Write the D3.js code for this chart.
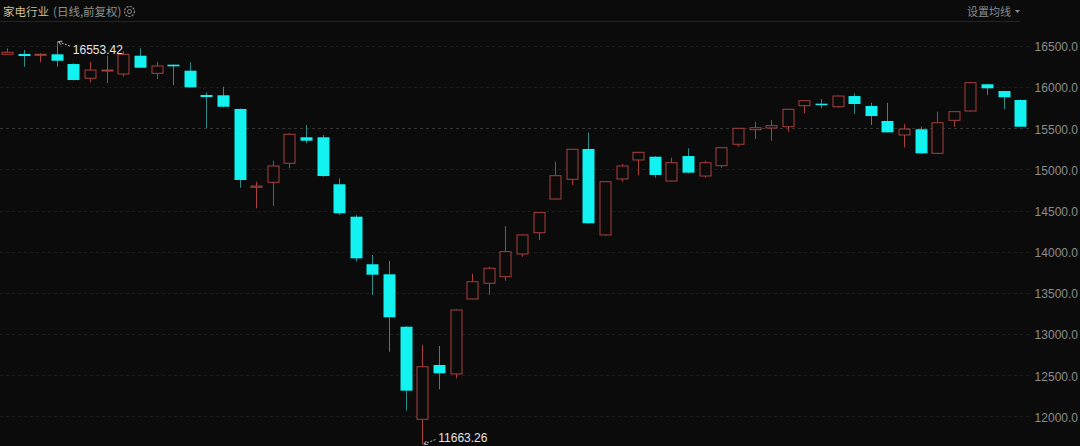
<!DOCTYPE html>
<html>
<head>
<meta charset="utf-8">
<script src="https://cdn.jsdelivr.net/npm/d3@7/dist/d3.min.js"></script>
<style>
  html, body { margin: 0; padding: 0; background: #0b0b0b; }
  svg { display: block; }
</style>
</head>
<body>
<svg id="chart" width="1080" height="446"></svg>
<script>
// ---- data ----
const title = "家电行业";
const subtitle = "(日线,前复权)";
const maButton = "设置均线";
const yTicks = [16500, 16000, 15500, 15000, 14500, 14000, 13500, 13000, 12500, 12000];

const opens  = [16399, 16403, 16387, 16399, 16281, 16108, 16196, 16160, 16382, 16168,
                16273, 16200, 15905, 15901, 15735, 14783, 14844, 15075, 15391, 15391,
                14820, 14426, 13848, 13726, 13089, 11964, 12624, 12515, 13426, 13617,
                13697, 13973, 14231, 14641, 14880, 15249, 14204, 14884, 15115, 15155,
                14860, 15163, 14920, 15046, 15306, 15483, 15504, 15519, 15775, 15799,
                15762, 15892, 15771, 15589, 15419, 15488, 15196, 15597, 15710, 16035,
                15953, 15844];
const highs  = [16472, 16451, 16411, 16553.42, 16290, 16309, 16382, 16439, 16472, 16309,
                16275, 16302, 15937, 16005, 15740, 14851, 15106, 15440, 15540, 15419,
                14892, 14447, 13960, 13888, 13095, 12867, 12855, 13300, 13730, 13819,
                14313, 14210, 14480, 15094, 15250, 15447, 14860, 15066, 15215, 15160,
                15143, 15257, 15106, 15270, 15505, 15580, 15601, 15735, 15840, 15856,
                15897, 15925, 15811, 15811, 15552, 15520, 15702, 15710, 16060, 16040,
                15955, 15850];
const lows   = [16397, 16248, 16302, 16248, 16080, 16059, 16047, 16127, 16233, 16099,
                16026, 15990, 15500, 15755, 14778, 14528, 14556, 15014, 15318, 14910,
                14447, 13879, 13474, 12786, 12069, 11663.26, 12329, 12462, 13420, 13474,
                13648, 13940, 14143, 14635, 14811, 14340, 14195, 14851, 14933, 14900,
                14855, 14955, 14900, 15021, 15277, 15370, 15349, 15459, 15682, 15743,
                15750, 15674, 15540, 15450, 15269, 15190, 15190, 15520, 15705, 15905,
                15731, 15515];
const closes = [16423, 16378, 16399, 16321, 16087, 16208, 16208, 16399, 16236, 16257,
                16253, 15998, 15880, 15762, 14872, 14799, 15042, 15427, 15349, 14920,
                14467, 13920, 13721, 13204, 12312, 12603, 12523, 13292, 13636, 13799,
                14001, 14204, 14475, 14924, 15245, 14346, 14851, 15042, 15208, 14933,
                15082, 14961, 15082, 15264, 15500, 15507, 15532, 15731, 15835, 15783,
                15892, 15795, 15649, 15451, 15491, 15196, 15568, 15702, 16054, 15986,
                15877, 15519];
const maxLabel = "16553.42";
const minLabel = "11663.26";

// ---- build ----
const candles = opens.map((o, i) => ({ i, o, h: highs[i], l: lows[i], c: closes[i] }));

const W = 1080, H = 446;
const BG = "#0b0b0b";
const UP = "#a9403d";
const DOWN_FILL = "#12f2f0";
const DOWN_WICK = "#2a8c8a";

const svg = d3.select("#chart");
svg.append("rect").attr("width", W).attr("height", H).attr("fill", BG);

const x = d3.scaleBand()
  .domain(candles.map(d => d.i))
  .range([-1.3, 1028.6])
  .paddingInner(0.3)
  .paddingOuter(0.15);

const y = d3.scaleLinear().domain([16500, 12000]).range([46, 416.35]);

// header
const header = svg.append("g");
header.append("text")
  .attr("x", 3).attr("y", 16)
  .attr("font-family", "'Noto Sans CJK SC', sans-serif")
  .attr("font-size", 11.5)
  .attr("fill", "#cbbf93")
  .text(title);
header.append("text")
  .attr("x", 53).attr("y", 16)
  .attr("font-family", "'Noto Sans CJK SC', sans-serif")
  .attr("font-size", 11.5)
  .attr("fill", "#8f8f8f")
  .text(subtitle);
// gear icon
const gear = header.append("g").attr("transform", "translate(129.5,11.5)");
gear.append("circle").attr("r", 5).attr("fill", "none").attr("stroke", "#8a8a8a").attr("stroke-width", 1.2)
  .attr("stroke-dasharray", "2.2 1.1");
gear.append("circle").attr("r", 2).attr("fill", "none").attr("stroke", "#8a8a8a").attr("stroke-width", 1);
header.append("text")
  .attr("x", 967).attr("y", 16)
  .attr("font-family", "'Noto Sans CJK SC', sans-serif")
  .attr("font-size", 11)
  .attr("fill", "#8a8a8a")
  .text(maButton);
header.append("path")
  .attr("d", "M1015,10 L1020,10 L1017.5,13 Z")
  .attr("fill", "#8a8a8a");
header.append("line")
  .attr("x1", 0).attr("x2", 1020).attr("y1", 21.5).attr("y2", 21.5)
  .attr("stroke", "#242424").attr("stroke-width", 1);

// grid
svg.append("g").selectAll("line").data(yTicks).join("line")
  .attr("x1", 0).attr("x2", 1030)
  .attr("y1", d => Math.round(y(d)) + 0.5)
  .attr("y2", d => Math.round(y(d)) + 0.5)
  .attr("stroke", d => d === 15500 ? "#363636" : "#1d1d1d")
  .attr("stroke-width", 1)
  .attr("stroke-dasharray", "3 3");

// y axis labels (right)
const yAxis = d3.axisRight(y).tickValues(yTicks).tickSize(0).tickPadding(0)
  .tickFormat(d => d3.format(".1f")(d));
const ax = svg.append("g").attr("transform", "translate(1078,0)").call(yAxis);
ax.select(".domain").remove();
ax.selectAll("text")
  .attr("text-anchor", "end")
  .attr("x", 0)
  .attr("dy", "0.4em")
  .attr("fill", "#8c8c8c")
  .attr("font-family", "'Liberation Sans', Arial, sans-serif")
  .attr("font-size", 12);

// candles
const bw = Math.round(x.bandwidth());
const g = svg.append("g");
const cx = d => Math.round(x(d.i) + x.bandwidth() / 2);

const up = candles.filter(d => d.c >= d.o);
const down = candles.filter(d => d.c < d.o);

// down candles: full wick then filled body
g.selectAll(".dw").data(down).join("line")
  .attr("x1", d => cx(d) + 0.5).attr("x2", d => cx(d) + 0.5)
  .attr("y1", d => y(d.h)).attr("y2", d => y(d.l))
  .attr("stroke", DOWN_WICK).attr("stroke-width", 1);
g.selectAll(".db").data(down).join("rect")
  .attr("x", d => cx(d) - (bw - 1) / 2)
  .attr("width", bw)
  .attr("y", d => y(d.o))
  .attr("height", d => Math.max(1.5, y(d.c) - y(d.o)))
  .attr("fill", DOWN_FILL);

// up candles: wicks above and below a hollow body
g.selectAll(".uwt").data(up).join("line")
  .attr("x1", d => cx(d) + 0.5).attr("x2", d => cx(d) + 0.5)
  .attr("y1", d => y(d.h)).attr("y2", d => y(d.c))
  .attr("stroke", UP).attr("stroke-width", 1);
g.selectAll(".uwb").data(up).join("line")
  .attr("x1", d => cx(d) + 0.5).attr("x2", d => cx(d) + 0.5)
  .attr("y1", d => y(d.o)).attr("y2", d => y(d.l))
  .attr("stroke", UP).attr("stroke-width", 1);
g.selectAll(".ub").data(up).join("rect")
  .attr("x", d => cx(d) - (bw - 1) / 2 + 0.5)
  .attr("width", bw - 1)
  .attr("y", d => y(d.c))
  .attr("height", d => Math.max(1, y(d.o) - y(d.c)))
  .attr("fill", BG)
  .attr("stroke", UP).attr("stroke-width", 1);

// extreme annotations
const maxI = highs.indexOf(d3.max(highs));
const minI = lows.indexOf(d3.min(lows));
const ann = svg.append("g");
function annotate(i, val, label, dir) {
  const px = x(i) + x.bandwidth() / 2 + 1.5;
  const py = y(val);
  const ex = px + 13, ey = py + (dir > 0 ? 5 : -5);
  ann.append("line")
    .attr("x1", px).attr("y1", py).attr("x2", ex).attr("y2", ey)
    .attr("stroke", "#bdbdbd").attr("stroke-width", 1).attr("stroke-dasharray", "2 1.5");
  const ang = Math.atan2(ey - py, ex - px);
  const a1 = ang + 0.5, a2 = ang - 0.5, L = 4;
  ann.append("path")
    .attr("d", `M${px + L * Math.cos(a1)},${py + L * Math.sin(a1)} L${px},${py} L${px + L * Math.cos(a2)},${py + L * Math.sin(a2)}`)
    .attr("fill", "none").attr("stroke", "#bdbdbd").attr("stroke-width", 1);
  ann.append("text")
    .attr("x", ex + 1.5).attr("y", dir > 0 ? ey + 7.5 : ey + 3)
    .attr("font-family", "'Liberation Sans', Arial, sans-serif")
    .attr("font-size", 12)
    .attr("fill", "#e6e6e6")
    .text(label);
}
annotate(maxI, highs[maxI], maxLabel, 1);
annotate(minI, lows[minI], minLabel, -1);
</script>
</body>
</html>
